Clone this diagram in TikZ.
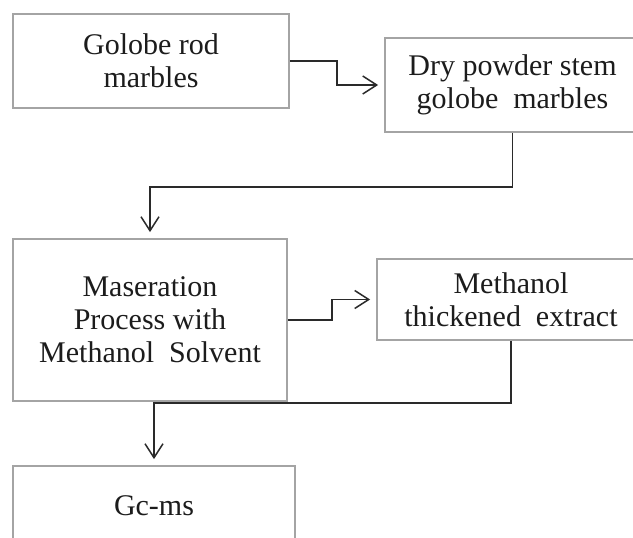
\documentclass[tikz,border=0pt]{standalone}
\usepackage{fontspec}
\setmainfont{Liberation Serif}
\usetikzlibrary{arrows.meta,fit}
\definecolor{boxgray}{HTML}{A4A4A4}
\definecolor{ink}{HTML}{1C1C1C}
\definecolor{wire}{HTML}{2A2A2A}
\begin{document}
\begin{tikzpicture}[x=1pt,y=-1pt,
  box/.style={draw=boxgray, line width=1.8pt, inner sep=0pt, rectangle},
  txt/.style={text=ink, font=\fontsize{30}{33}\selectfont, align=center, inner sep=0pt},
  link/.style={draw=wire, line width=1.5pt, -{Straight Barb[length=14pt,width=18pt]}, shorten >=6pt}
]
% page frame
\useasboundingbox (0,0) rectangle (633,538);
\clip (0,0) rectangle (633,538);
\fill[white] (0,0) rectangle (633,538);

% process boxes
\node[box, fit={(13,14) (289,108)}]  (b1) {};
\node[box, fit={(385,38) (640,132)}] (b2) {};
\node[box, fit={(13,239) (287,401)}] (b3) {};
\node[box, fit={(377,259) (645,340)}] (b4) {};
\node[box, fit={(13,466) (295,542)}] (b5) {};

% box texts
\node[txt] (t1) at (b1.center) {Golobe rod\\marbles};
\node[txt] (t2) at (b2.center) {Dry powder stem\\golobe\ \ marbles};
\node[txt] (t3) at (b3.center) {Maseration\\Process with\\Methanol\ \ Solvent};
\node[txt] (t4) at (b4.center) {Methanol\\thickened\ \ extract};
\node[txt] (t5) at ([yshift=-2pt]b5.center) {Gc-ms};

% elbow points of the connectors
\coordinate (k1) at (337,61);
\coordinate (k2) at (150,187);
\coordinate (k3) at (332,320);
\coordinate (k4) at (154,403);

% connectors
\draw[link] (b1.east) -- (k1) |- (b2.west);
\draw[link] (b2.south) |- (k2) -- (b3.north);
\draw[link] (b3.east) -- (k3) |- (b4.west);
\draw[link] (b4.south) |- (k4) -- (b5.north);
\end{tikzpicture}
\end{document}
